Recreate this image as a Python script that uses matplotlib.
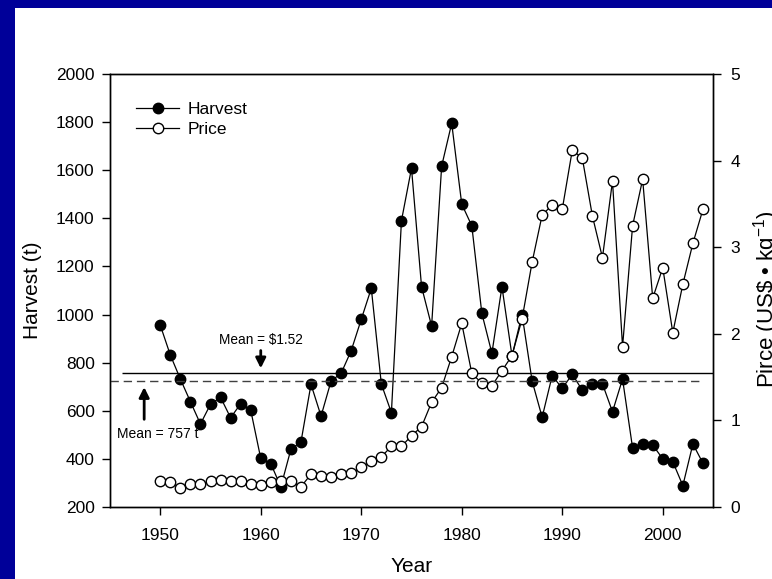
import matplotlib
matplotlib.use("Agg")
import matplotlib.pyplot as plt
from matplotlib.patches import Rectangle

plt.rcParams['font.family'] = ['Liberation Sans', 'DejaVu Sans']
plt.rcParams['mathtext.fontset'] = 'custom'
plt.rcParams['mathtext.rm'] = 'Liberation Sans'
plt.rcParams['mathtext.it'] = 'Liberation Sans'

# data
years = list(range(1950, 2005))
harvest = [956, 832, 732, 638, 545, 627, 656, 571, 629, 603,
           402, 380, 284, 440, 470, 710, 578, 724, 756, 850,
           980, 1109, 711, 592, 1390, 1608, 1116, 952, 1617, 1795,
           1459, 1369, 1005, 839, 1116, 828, 1000, 724, 573, 746,
           693, 752, 685, 710, 712, 596, 732, 445, 461, 458,
           400, 388, 289, 462, 382]
price = [0.30, 0.285, 0.223, 0.262, 0.262, 0.30, 0.312, 0.30, 0.305, 0.27,
         0.257, 0.289, 0.295, 0.30, 0.234, 0.378, 0.362, 0.35, 0.381, 0.389,
         0.458, 0.531, 0.58, 0.70, 0.70, 0.823, 0.927, 1.209, 1.378, 1.736,
         2.12, 1.544, 1.428, 1.40, 1.574, 1.747, 2.171, 2.826, 3.372, 3.487,
         3.437, 4.122, 4.026, 3.36, 2.879, 3.764, 1.851, 3.248, 3.784, 2.41,
         2.763, 2.013, 2.573, 3.045, 3.437]
mean_harvest = 757
mean_price = 1.46

fig = plt.figure(figsize=(7.72, 5.79), dpi=100, facecolor='#000099')
fig.patches.append(Rectangle((15/772, 0), 1, 1 - 8/579, transform=fig.transFigure,
                             facecolor='white', edgecolor='none', zorder=-10))

ax = fig.add_axes([110/772, 72/579, 603/772, 433/579])
ax2 = ax.twinx()

ax.plot(years, harvest, '-o', color='black', lw=0.9, ms=7.5,
        mfc='black', mec='black', label='Harvest')
ax2.plot(years, price, '-o', color='black', lw=0.9, ms=7.5,
         mfc='white', mec='black', mew=1, label='Price')

ax.hlines(mean_harvest, 1946.2, 2005, color='black', lw=1)
ax2.hlines(mean_price, 1945, 2003.6, color='#404040', lw=1, linestyles=(0, (6, 3.5)))

ax.set_xlim(1945, 2005)
ax.set_ylim(200, 2000)
ax2.set_ylim(0, 5)
ax.set_xticks([1950, 1960, 1970, 1980, 1990, 2000])
ax.set_yticks(range(200, 2001, 200))
ax2.set_yticks([0, 1, 2, 3, 4, 5])

ax.tick_params(axis='x', direction='out', length=6, width=1, pad=9, labelsize=12.5)
ax.tick_params(axis='y', direction='out', length=6, width=1, pad=5, labelsize=12.5)
ax2.tick_params(axis='y', direction='out', length=6, width=1, pad=6.5, labelsize=12.5)
for a in (ax, ax2):
    for s in a.spines.values():
        s.set_linewidth(1)

ax.set_xlabel('Year', fontsize=15, labelpad=10)
ax.set_ylabel('Harvest (t)', fontsize=15, labelpad=10)
ax2.set_ylabel(r'Pirce (US\$ • kg$^{-1}$)', fontsize=16)
ax2.yaxis.set_label_coords(1.064, 0.48)

# mean annotations
ax.annotate('', xy=(1960, 765), xytext=(1960, 862),
            arrowprops=dict(arrowstyle='-|>', color='black', lw=2, mutation_scale=15))
ax.text(1960, 878, 'Mean = $1.52', ha='center', va='baseline', fontsize=9.8)
ax.annotate('', xy=(1948.4, 710), xytext=(1948.4, 553),
            arrowprops=dict(arrowstyle='-|>', color='black', lw=2, mutation_scale=15))
ax.text(1949.75, 488, 'Mean = 757 t', ha='center', va='baseline', fontsize=10)

h1, l1 = ax.get_legend_handles_labels()
h2, l2 = ax2.get_legend_handles_labels()
ax2.legend(h1 + h2, l1 + l2, loc='upper left', bbox_to_anchor=(0.043, 0.936),
           frameon=False, fontsize=12.5, numpoints=1, handlelength=2.5,
           handletextpad=0.5, labelspacing=0.3, borderpad=0, borderaxespad=0)

fig.savefig('out.png', dpi=100, facecolor=fig.get_facecolor())
